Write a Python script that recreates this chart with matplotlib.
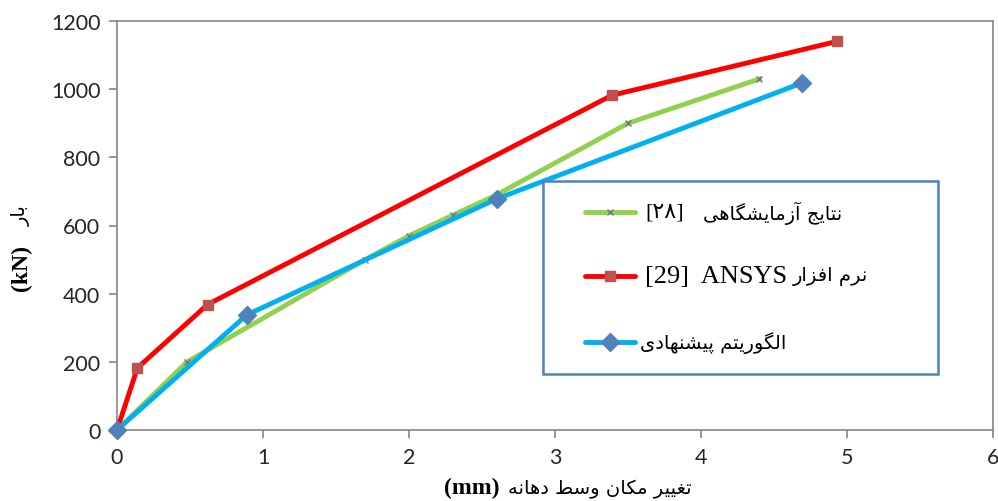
import numpy as np
import matplotlib
matplotlib.use('Agg')
import matplotlib.pyplot as plt
from matplotlib.patches import Rectangle
from matplotlib.lines import Line2D

# data (mid-span deflection mm, load kN)
test_x = [0, 0.48, 1.7, 2.0, 2.3, 2.6, 3.5, 4.4]
test_y = [0, 200, 500, 570, 630, 690, 900, 1030]
ansys_x = [0, 0.14, 0.62, 3.39, 4.93]
ansys_y = [0, 182, 368, 982, 1140]
algo_x = [0, 0.89, 2.6, 4.69]
algo_y = [0, 338, 678, 1018]

xticks = [0, 1, 2, 3, 4, 5, 6]
yticks = [0, 200, 400, 600, 800, 1000, 1200]

label_test = 'نتایج آزمایشگاهی'
label_ansys = 'نرم افزار'
label_algo = 'الگوریتم پیشنهادی'
xlabel_fa = 'تغییر مکان وسط دهانه'
ylabel_fa = 'بار'

# minimal persian shaping: (isolated, final, initial, medial)
FORMS = {
    'ا': ('\uFE8D', '\uFE8E', None, None),
    'آ': ('\uFE81', '\uFE82', None, None),
    'ب': ('\uFE8F', '\uFE90', '\uFE91', '\uFE92'),
    'پ': ('\uFB56', '\uFB57', '\uFB58', '\uFB59'),
    'ت': ('\uFE95', '\uFE96', '\uFE97', '\uFE98'),
    'ج': ('\uFE9D', '\uFE9E', '\uFE9F', '\uFEA0'),
    'د': ('\uFEA9', '\uFEAA', None, None),
    'ر': ('\uFEAD', '\uFEAE', None, None),
    'ز': ('\uFEAF', '\uFEB0', None, None),
    'س': ('\uFEB1', '\uFEB2', '\uFEB3', '\uFEB4'),
    'ش': ('\uFEB5', '\uFEB6', '\uFEB7', '\uFEB8'),
    'ط': ('\uFEC1', '\uFEC2', '\uFEC3', '\uFEC4'),
    'غ': ('\uFECD', '\uFECE', '\uFECF', '\uFED0'),
    'ف': ('\uFED1', '\uFED2', '\uFED3', '\uFED4'),
    'ک': ('\uFB8E', '\uFB8F', '\uFB90', '\uFB91'),
    'گ': ('\uFB92', '\uFB93', '\uFB94', '\uFB95'),
    'ل': ('\uFEDD', '\uFEDE', '\uFEDF', '\uFEE0'),
    'م': ('\uFEE1', '\uFEE2', '\uFEE3', '\uFEE4'),
    'ن': ('\uFEE5', '\uFEE6', '\uFEE7', '\uFEE8'),
    'ه': ('\uFEE9', '\uFEEA', '\uFEEB', '\uFEEC'),
    'و': ('\uFEED', '\uFEEE', None, None),
    'ی': ('\uFBFC', '\uFBFD', '\uFBFE', '\uFBFF'),
}


def fa(s):
    out = []
    for i, c in enumerate(s):
        if c not in FORMS:
            out.append(c)
            continue
        prev = s[i - 1] if i > 0 else ''
        nxt = s[i + 1] if i + 1 < len(s) else ''
        pj = prev in FORMS and FORMS[prev][2] is not None
        nj = FORMS[c][2] is not None and nxt in FORMS
        iso, fin, ini, med = FORMS[c]
        if pj and nj:
            out.append(med)
        elif pj:
            out.append(fin)
        elif nj:
            out.append(ini)
        else:
            out.append(iso)
    return ''.join(reversed(out))


W, H = 998, 502
fig = plt.figure(figsize=(W / 100, H / 100), dpi=100)
ax = fig.add_axes([117 / W, 1 - 431 / H, (993 - 117) / W, (431 - 22) / H])


def px(x, y):
    return x / W, 1 - y / H


ax.plot(test_x, test_y, color='#92d050', lw=3.5, marker='x', ms=4.5,
        mec='#7a6e8f', mew=1.0, zorder=3)
ax.plot(ansys_x, ansys_y, color='#ff0000', lw=3.5, marker='s', ms=7,
        mfc='#c0504d', mec='#c0504d', zorder=4)
ax.plot(algo_x, algo_y, color='#00b0f0', lw=3.5, marker='D', ms=9,
        mfc='#4f81bd', mec='#4f81bd', zorder=5, clip_on=False)

ax.set_xlim(0, 6)
ax.set_ylim(0, 1200)
ax.set_xticks(xticks)
ax.set_yticks(yticks)
for sp in ax.spines.values():
    sp.set_color('#868686')
    sp.set_linewidth(1.2)
ax.tick_params(direction='out', length=6, color='#868686', width=1.2,
               labelsize=15.5, labelcolor='#262626', pad=6)
for lab in ax.get_xticklabels() + ax.get_yticklabels():
    lab.set_family('Lato')

# axis labels
fig.text(*px(508, 489), fa(xlabel_fa), ha='left', va='center', fontsize=14,
         family='DejaVu Sans')
fig.text(*px(500, 488), '(mm)', ha='right', va='center', fontsize=17,
         family='Liberation Serif', weight='bold')
fig.text(*px(21, 268), '(kN)', rotation=90, ha='center', va='center',
         fontsize=17, family='Liberation Serif', weight='bold')
fig.text(*px(21, 216), fa(ylabel_fa), rotation=90, ha='center', va='center',
         fontsize=14, family='DejaVu Sans')

# legend box
bx0, by1 = px(543, 375)
bx1, by0 = px(938, 182)
fig.patches.append(Rectangle((bx0, by1), bx1 - bx0, by0 - by1,
                             transform=fig.transFigure, facecolor='white',
                             edgecolor='#4f81bd', lw=1.8, zorder=10))
entries = [
    (213, '#92d050', 'x', 4.5, '#7a6e8f', '[۲۸]', 645, 16, fa(label_test), 703),
    (277, '#ff0000', 's', 7, '#c0504d', '[29]  ANSYS', 645, 19, fa(label_ansys), 793),
    (343, '#00b0f0', 'D', 9, '#4f81bd', '', 645, 16, fa(label_algo), 640),
]
for yy, col, mk, ms, mc, ltxt, lx, lsz, ftxt, fx in entries:
    xa, ya = px(585, yy)
    xb, _ = px(635, yy)
    xm, _ = px(610, yy)
    fig.lines.append(Line2D([xa, xb], [ya, ya], color=col, lw=3.5,
                            transform=fig.transFigure, zorder=11,
                            solid_capstyle='round'))
    fig.lines.append(Line2D([xm], [ya], marker=mk, ms=ms, mfc=mc, mec=mc,
                            mew=1.0, transform=fig.transFigure, zorder=12))
    if ltxt:
        fig.text(*px(lx, yy), ltxt, ha='left', va='center', fontsize=lsz,
                 family=['Liberation Serif', 'DejaVu Sans'], zorder=13)
    fig.text(*px(fx, yy), ftxt, ha='left', va='center', fontsize=14,
             family='DejaVu Sans', zorder=13)

fig.savefig('out.png', dpi=100, facecolor='white')
